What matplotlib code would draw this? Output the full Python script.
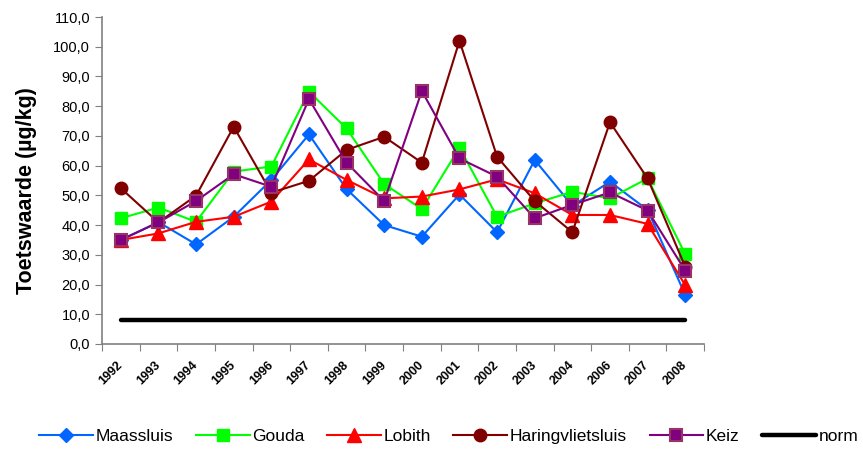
import matplotlib.pyplot as plt
import matplotlib.transforms as mtransforms
import numpy as np

plt.rcParams['font.family'] = ['Liberation Sans', 'DejaVu Sans']

jaren = ['1992', '1993', '1994', '1995', '1996', '1997', '1998', '1999',
         '2000', '2001', '2002', '2003', '2004', '2006', '2007', '2008']

maassluis = [35.0, 41.0, 33.5, 42.8, 55.2, 70.5, 52.1, 40.0,
             36.1, 50.3, 37.6, 61.9, 46.5, 54.6, 45.1, 16.5]
gouda = [42.3, 45.9, 41.1, 58.0, 59.7, 84.9, 72.5, 53.8,
         45.4, 66.0, 42.8, 47.3, 51.2, 49.0, 55.7, 30.2]
lobith = [35.0, 37.2, 41.1, 42.8, 47.9, 62.1, 55.2, 49.0,
          49.6, 52.0, 55.4, 50.7, 43.4, 43.4, 40.4, 19.8]
haringvliet = [52.4, 40.9, 49.9, 73.1, 50.9, 54.9, 65.3, 69.7,
               61.0, 102.0, 63.0, 48.1, 37.6, 74.6, 55.7, 26.0]
keiz = [35.0, 40.9, 48.1, 57.1, 52.9, 82.4, 61.0, 48.1,
        85.1, 62.4, 56.3, 42.3, 46.8, 51.0, 44.9, 24.7]
norm = [8.0] * 16

x = np.arange(len(jaren))

fig = plt.figure(figsize=(8.63, 4.57), dpi=100)
ax = fig.add_axes([0.1182, 0.2473, 0.6976, 0.7155])

ax.plot(x, maassluis, color='#0066ff', lw=1.5, marker='D', ms=7.5, mec='#0066ff', label='Maassluis')
ax.plot(x, gouda, color='#00ff00', lw=1.5, marker='s', ms=9, mec='#00ff00', label='Gouda')
ax.plot(x, lobith, color='#ff0000', lw=1.5, marker='^', ms=10, mec='#ff0000', label='Lobith')
ax.plot(x, haringvliet, color='#800000', lw=1.5, marker='o', ms=9, mec='#800000', label='Haringvlietsluis')
ax.plot(x, keiz, color='#800080', lw=1.5, marker='s', ms=9, mfc='#800080', mec='#993366', mew=1.5, label='Keiz')
ax.plot(x, norm, color='black', lw=3.2, solid_capstyle='round', label='norm')

ax.set_xlim(-0.5, len(jaren) - 0.5)
ax.set_ylim(0, 110)
yt = np.arange(0, 111, 10)
ax.set_yticks(yt)
ax.set_yticklabels([('%.1f' % v).replace('.', ',') for v in yt])

# tick marks between the years, labels on the years
ax.set_xticks(np.arange(-0.5, len(jaren), 1.0))
ax.set_xticklabels([])
ax.set_xticks(x, minor=True)
ax.set_xticklabels(jaren, minor=True, rotation=45, ha='right', va='center',
                   rotation_mode='anchor', fontsize=9, fontweight='bold')
shift = mtransforms.ScaledTranslation(-8 / 100, 0, fig.dpi_scale_trans)
for lab in ax.get_xticklabels(minor=True):
    lab.set_transform(lab.get_transform() + shift)
ax.tick_params(axis='x', which='minor', length=0, pad=14)
ax.tick_params(axis='x', which='major', length=5, color='#808080', direction='out')
ax.tick_params(axis='y', length=5, color='#808080', direction='out', labelsize=10.5)

for s in ['top', 'right']:
    ax.spines[s].set_visible(False)
for s in ['left', 'bottom']:
    ax.spines[s].set_color('#808080')
    ax.spines[s].set_linewidth(1.2)

ax.set_ylabel('Toetswaarde (µg/kg)', fontsize=15.5, fontweight='bold')
ax.yaxis.set_label_coords(-0.108, 0.47)

fig.legend(loc='lower center', bbox_to_anchor=(0.52, -0.005), ncol=6, frameon=False,
           fontsize=12.5, handlelength=3.1, columnspacing=1.3, handletextpad=0.15)

fig.savefig('out.png', dpi=100)
